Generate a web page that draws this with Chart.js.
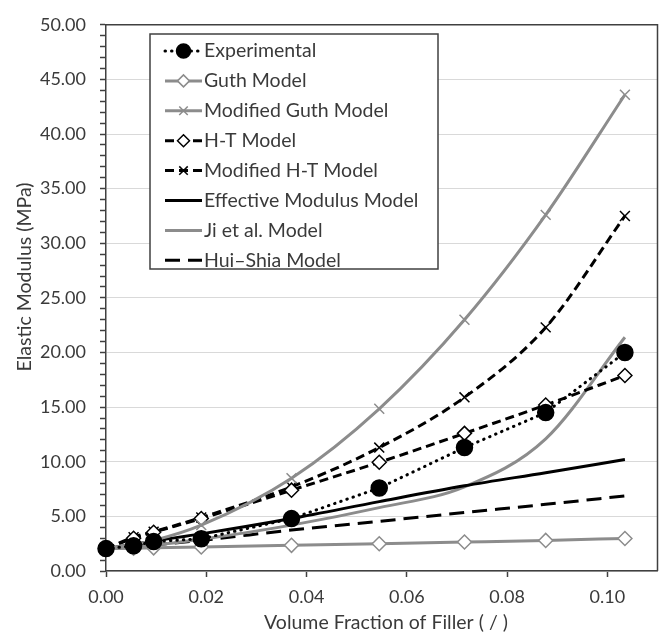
<!DOCTYPE html>
<html>
<head>
<meta charset="utf-8">
<script src="https://cdn.jsdelivr.net/npm/chart.js@4.4.0/dist/chart.umd.min.js"></script>
<style>
    html, body { margin: 0; padding: 0; background: #fff; }
    #chart { display: block; }
</style>
</head>
<body>
<canvas id="chart" width="667" height="640"></canvas>
<script>
// volume fraction of filler (x) for every series
const fraction = [0, 0.0055, 0.0095, 0.019, 0.037, 0.0545, 0.0715, 0.0877, 0.1035];

// elastic modulus (MPa)
const experimental = [2.05, 2.3, 2.7, 2.95, 4.8, 7.6, 11.3, 14.5, 20.0];
const guth = [2.05, 2.08, 2.12, 2.2, 2.35, 2.5, 2.65, 2.8, 2.98];
const modifiedGuth = [2.05, 2.45, 2.8, 4.2, 8.5, 14.85, 23.0, 32.6, 43.6];
const hT = [2.05, 3.0, 3.55, 4.8, 7.4, 9.95, 12.6, 15.2, 17.9];
const modifiedHT = [2.05, 3.1, 3.6, 4.9, 7.7, 11.3, 15.9, 22.3, 32.5];
const effectiveModulus = [2.05, 2.45, 2.75, 3.4, 4.8, 6.35, 7.8, 9.0, 10.2];
const jiModel = [2.05, 2.2, 2.35, 2.9, 4.2, 5.8, 7.7, 12.1, 21.4];
const huiShia = [2.05, 2.25, 2.4, 2.8, 3.75, 4.55, 5.35, 6.1, 6.87];

const seriesNames = ["Experimental", "Guth Model", "Modified Guth Model", "H-T Model",
    "Modified H-T Model", "Effective Modulus Model", "Ji et al. Model", "Hui\u2013Shia Model"];

const xTicks = [0, 0.02, 0.04, 0.06, 0.08, 0.10];

const FONT = "Lato";
const LABEL_SIZE = 19.5;
const TEXT = "#3a3a3a";
const AXIS = "#404040";
const GRAY = "#8c8c8c";
const BLACK = "#000000";

function toPoints(values) {
    return fraction.map((x, i) => ({ x: x, y: values[i] }));
}

function series(label, values, style) {
    return Object.assign({
        label: label,
        data: toPoints(values),
        fill: false,
        clip: false,
        borderWidth: 3,
        pointRadius: 0,
        pointBorderWidth: 1.5,
        pointHoverRadius: 0,
        cubicInterpolationMode: "monotone"
    }, style);
}

const datasets = [
    series(seriesNames[0], experimental, {
        borderColor: BLACK, backgroundColor: BLACK, borderDash: [0.5, 6], borderCapStyle: "round",
        pointStyle: "circle", pointRadius: 8, pointBackgroundColor: BLACK, pointBorderColor: BLACK,
        cubicInterpolationMode: "default", tension: 0
    }),
    series(seriesNames[1], guth, {
        borderColor: GRAY, pointStyle: "rectRot", pointRadius: 7,
        pointBackgroundColor: "#ffffff", pointBorderColor: GRAY
    }),
    series(seriesNames[2], modifiedGuth, {
        borderColor: GRAY, pointStyle: "crossRot", pointRadius: 7, pointBorderColor: GRAY
    }),
    series(seriesNames[3], hT, {
        borderColor: BLACK, borderDash: [9, 5], pointStyle: "rectRot", pointRadius: 7,
        pointBackgroundColor: "#ffffff", pointBorderColor: BLACK
    }),
    series(seriesNames[4], modifiedHT, {
        borderColor: BLACK, borderDash: [9, 5], pointStyle: "crossRot", pointRadius: 7,
        pointBorderColor: BLACK
    }),
    series(seriesNames[5], effectiveModulus, { borderColor: BLACK }),
    series(seriesNames[6], jiModel, { borderColor: GRAY }),
    series(seriesNames[7], huiShia, { borderColor: BLACK, borderDash: [15, 8] })
];

// frame, axis titles and the boxed legend inside the plot
const extras = {
    id: "extras",
    afterDraw(chart) {
        const ctx = chart.ctx;
        const area = chart.chartArea;
        ctx.save();

        // plot frame (top / right)
        ctx.strokeStyle = AXIS;
        ctx.lineWidth = 1.5;
        ctx.setLineDash([]);
        ctx.beginPath();
        ctx.moveTo(area.left, area.top);
        ctx.lineTo(area.right, area.top);
        ctx.lineTo(area.right, area.bottom);
        ctx.stroke();

        // axis titles
        ctx.fillStyle = TEXT;
        ctx.font = `${LABEL_SIZE}px ${FONT}`;
        ctx.textAlign = "center";
        ctx.textBaseline = "middle";
        ctx.fillText("Volume Fraction of Filler ( / )", 386, 623);
        ctx.save();
        ctx.translate(25, 277);
        ctx.rotate(-Math.PI / 2);
        ctx.fillText("Elastic Modulus (MPa)", 0, 0);
        ctx.restore();

        // legend box
        const box = { left: 150, top: 34, right: 438, bottom: 269 };
        ctx.fillStyle = "#ffffff";
        ctx.fillRect(box.left, box.top, box.right - box.left, box.bottom - box.top);
        ctx.strokeStyle = AXIS;
        ctx.lineWidth = 1.5;
        ctx.strokeRect(box.left, box.top, box.right - box.left, box.bottom - box.top);

        const rowStart = 51;
        const rowGap = 29.9;
        const x0 = 165, x1 = 202;
        chart.data.datasets.forEach((ds, i) => {
            const y = rowStart + i * rowGap;
            ctx.save();
            ctx.strokeStyle = ds.borderColor;
            ctx.lineWidth = ds.borderWidth;
            ctx.lineCap = ds.borderCapStyle || "butt";
            ctx.setLineDash(ds.borderDash || []);
            ctx.beginPath();
            ctx.moveTo(x0, y);
            ctx.lineTo(x1, y);
            ctx.stroke();
            ctx.restore();

            if (ds.pointRadius > 0) {
                ctx.save();
                ctx.setLineDash([]);
                ctx.fillStyle = ds.pointBackgroundColor || "#ffffff";
                ctx.strokeStyle = ds.pointBorderColor;
                ctx.lineWidth = ds.pointBorderWidth;
                Chart.helpers.drawPoint(ctx, {
                    pointStyle: ds.pointStyle,
                    radius: ds.pointStyle === "circle" ? 7 : 6,
                    borderWidth: ds.pointBorderWidth,
                    rotation: 0
                }, (x0 + x1) / 2, y);
                ctx.restore();
            }

            ctx.fillStyle = TEXT;
            ctx.font = `${LABEL_SIZE}px ${FONT}`;
            ctx.textAlign = "left";
            ctx.textBaseline = "middle";
            ctx.fillText(ds.label, 204, y);
        });
        ctx.restore();
    }
};

new Chart(document.getElementById("chart").getContext("2d"), {
    type: "line",
    data: { datasets: datasets },
    plugins: [extras],
    options: {
        responsive: false,
        animation: false,
        events: [],
        layout: { padding: { top: 18, right: 5, left: 0, bottom: 0 } },
        plugins: {
            legend: { display: false },
            tooltip: { enabled: false },
            title: { display: false }
        },
        scales: {
            x: {
                type: "linear",
                min: 0,
                max: 0.11,
                afterBuildTicks: (scale) => {
                    scale.ticks = xTicks.map(v => ({ value: v }));
                },
                afterFit: (scale) => { scale.height = 69; },
                ticks: {
                    color: TEXT,
                    font: { family: FONT, size: 18 },
                    padding: 9,
                    maxRotation: 0,
                    callback: (v) => Number(v).toFixed(2)
                },
                grid: { drawOnChartArea: false, drawTicks: true, tickLength: 6, tickColor: AXIS, tickWidth: 1.5 },
                border: { display: true, color: AXIS, width: 1.5 }
            },
            y: {
                min: 0,
                max: 50,
                afterFit: (scale) => { scale.width = 106; },
                ticks: {
                    stepSize: 1,
                    autoSkip: false,
                    color: TEXT,
                    font: { family: FONT, size: 18 },
                    padding: 14,
                    callback: (v) => (v % 5 === 0 ? Number(v).toFixed(2) : "")
                },
                grid: {
                    color: (c) => (c.tick && c.tick.value % 5 === 0 ? "#d9d9d9" : "rgba(0,0,0,0)"),
                    lineWidth: 1,
                    tickLength: 6,
                    tickColor: AXIS,
                    tickWidth: 1.5
                },
                border: { display: true, color: AXIS, width: 1.5 }
            }
        }
    }
});
</script>
</body>
</html>
